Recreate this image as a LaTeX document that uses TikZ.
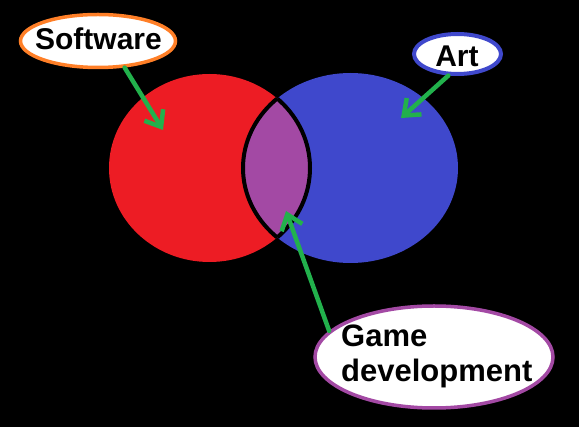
\documentclass[tikz,border=0pt]{standalone}
\usepackage{fontspec}
\setmainfont{Liberation Sans}
\usetikzlibrary{arrows.meta, positioning, shapes.geometric}

\definecolor{setred}{HTML}{ED1C24}
\definecolor{setblue}{HTML}{3F48CC}
\definecolor{setpurple}{HTML}{A349A4}
\definecolor{tagorange}{HTML}{FF7F27}
\definecolor{pointgreen}{HTML}{22B14C}

\begin{document}
\begin{tikzpicture}[
	x=1pt, y=-1pt,
	setshape/.style={
		ellipse,
		inner sep=0pt,
		draw=none
	},
	tag/.style={
		ellipse,
		fill=white,
		line width=3.5pt,
		inner sep=0pt
	},
	tagtext/.style={font=\bfseries\fontsize{30}{35}\selectfont, inner sep=0pt, text=black},
	pointer/.style={-{Straight Barb[length=14pt, width=22pt]}, line width=4.5pt, draw=pointgreen, line cap=round},
	lens/.style={draw=black, line width=4pt}
]

\fill[black] (0,0) rectangle (579,427);
\useasboundingbox (0,0) rectangle (579,427);

% Sets
\node[setshape, fill=setred, minimum width=201pt, minimum height=188pt] (softset) at (209.5,168) {};
\node[setshape, fill=setblue, minimum width=215pt, minimum height=190pt] (artset) at (350.5,168) {};

% Overlap
\begin{scope}
	\clip (softset.center) ellipse [x radius=100.5pt, y radius=94pt];
	\fill[setpurple] (artset.center) ellipse [x radius=107.5pt, y radius=95pt];
	\draw[lens] (artset.center) ellipse [x radius=107.5pt, y radius=95pt];
\end{scope}
\begin{scope}
	\clip (artset.center) ellipse [x radius=107.5pt, y radius=95pt];
	\draw[lens] (softset.center) ellipse [x radius=100.5pt, y radius=94pt];
\end{scope}

% Labels
\node[tag, draw=tagorange, minimum width=155pt, minimum height=53pt] (softtag) at (98,41) {};
\node[tagtext, anchor=base] (softtext) at (98.5,50) {Software};

\node[tag, draw=setblue, line width=4pt, minimum width=87pt, minimum height=40pt] (arttag) at (457.5,54) {};
\node[tagtext, anchor=base] (arttext) at (457,67) {Art};

\node[tag, draw=setpurple, minimum width=238pt, minimum height=102pt] (gametag) at (434,357) {};
\node[tagtext, font=\bfseries\fontsize{31}{35}\selectfont, align=left, anchor=base west] (gametext) at (341,382) {Game\\development};

% Pointers
\coordinate (softtip) at (163,130);
\coordinate (arttip) at (401,118);
\coordinate (gametip) at (286,211);

\draw[pointer] (softtag.-45) -- (softtip);
\draw[pointer] (arttag.-113) -- (arttip);
\draw[pointer] (gametag.166) -- (gametip);
\end{tikzpicture}
\end{document}
